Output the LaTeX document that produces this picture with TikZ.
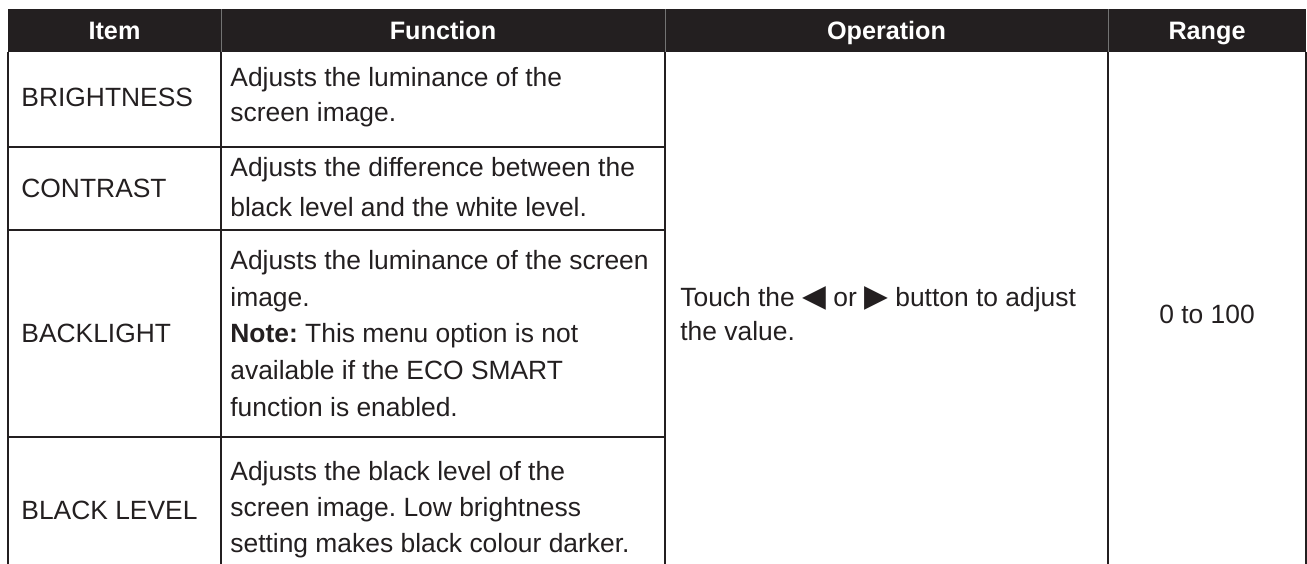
\documentclass[tikz,border=0pt]{standalone}
\usepackage{fontspec}
\setmainfont{Liberation Sans}
\newfontfamily\symfont{DejaVu Sans}
\definecolor{tabdark}{HTML}{231F20}
\frenchspacing
\newcommand{\tri}[1]{{\symfont\fontsize{15.5}{17}\selectfont #1}}

\begin{document}
\begin{tikzpicture}[x=0.5pt,y=-0.5pt]
        \tikzstyle{every node}=[inner sep=0pt, text=tabdark, font=\fontsize{13.2}{17.5}\selectfont]
        \tikzstyle{head}=[anchor=base, text=white, font=\fontsize{12.6}{15}\selectfont\bfseries]
        \tikzstyle{cell}=[anchor=west, align=left]
        \tikzstyle{rule}=[draw=tabdark, line width=1pt]
        \tikzset{lines/.style={font=\fontsize{13.2}{#1}\selectfont}}

        \useasboundingbox (0,0) rectangle (1307,563);

        % header bar
        \fill[tabdark] (8,9) rectangle (1306,52);
        \foreach \x in {221,665,1108} {
            \draw[black!55, line width=0.3pt] (\x,9) -- (\x,52);
        }
        \foreach \name/\x/\txt in {item/114.5/Item, func/443/Function, oper/886.5/Operation, range/1207/Range} {
            \node[head] (h_\name) at (\x,39.5) {\txt};
        }

        % item column
        \foreach \row/\y/\txt in {bright/97/BRIGHTNESS, contrast/188/CONTRAST, backlight/333/BACKLIGHT, black/510/BLACK LEVEL} {
            \node[cell] (i_\row) at (21,\y) {\txt};
        }

        % function column
        \node[cell, lines=17.5pt] (f_bright) at (230,97.5) {Adjusts the luminance of the\\screen image.};
        \node[cell, lines=20pt] (f_contrast) at (230,187) {Adjusts the difference between the\\black level and the white level.};
        \node[cell, lines=18.4pt] (f_backlight) at (230,333.5) {Adjusts the luminance of the screen\\image.\\\textbf{Note:} This menu option is not\\available if the ECO SMART\\function is enabled.};
        \node[cell, lines=18pt] (f_black) at (230,510) {Adjusts the black level of the\\screen image. Low brightness\\setting makes black colour darker.};

        % operation and range (merged cells)
        \node[cell, lines=17pt] (op) at (680,314) {Touch the \tri{◀} or \tri{▶} button to adjust\\the value.};
        \node (rng) at (1207,314) {0 to 100};

        % grid
        \foreach \x in {8,221,665,1108,1306} {
            \draw[rule] (\x,52) -- (\x,583);
        }
        \foreach \y in {147,230,437} {
            \draw[rule] (8,\y) -- (665,\y);
        }
\end{tikzpicture}
\end{document}
